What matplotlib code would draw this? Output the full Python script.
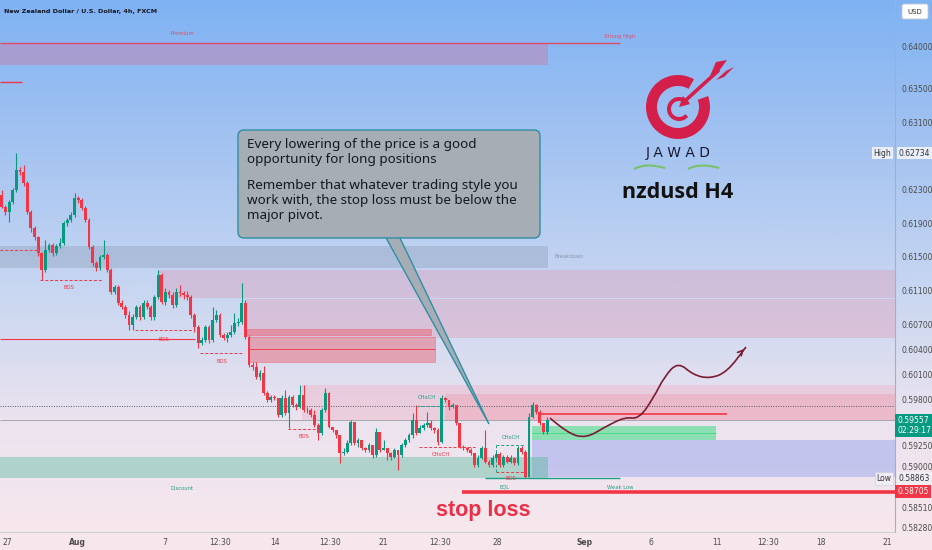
import numpy as np
import matplotlib
matplotlib.use('Agg')
import matplotlib.pyplot as plt
import matplotlib.transforms as mtransforms
from matplotlib.colors import LinearSegmentedColormap
from matplotlib.patches import Rectangle, FancyBboxPatch, Polygon, Wedge, PathPatch
from matplotlib.path import Path

# NZDUSD 4h candles
first_open = 0.62236
closes = np.array([
    0.62093, 0.62033, 0.62152, 0.62295, 0.62533, 0.62509, 0.62378, 0.62033, 0.61843, 0.61736,
    0.61545, 0.61343, 0.61581, 0.61641, 0.61545, 0.61629, 0.61664, 0.61902, 0.61938, 0.61998,
    0.62200, 0.62176, 0.62081, 0.61938, 0.61617, 0.61426, 0.61367, 0.61498, 0.61521, 0.61343,
    0.61081, 0.61140, 0.60950, 0.60902, 0.60807, 0.60688, 0.60783, 0.60902, 0.60783, 0.60950,
    0.60902, 0.60783, 0.61021, 0.61283, 0.60962, 0.61081, 0.61045, 0.60926, 0.61081, 0.61069,
    0.61045, 0.61021, 0.60807, 0.60664, 0.60474, 0.60509, 0.60664, 0.60509, 0.60748, 0.60807,
    0.60569, 0.60533, 0.60569, 0.60605, 0.60712, 0.60724, 0.60950, 0.60545, 0.60212, 0.60188,
    0.60069, 0.60117, 0.59878, 0.59795, 0.59831, 0.59819, 0.59617, 0.59819, 0.59640, 0.59831,
    0.59736, 0.59712, 0.59855, 0.59676, 0.59676, 0.59617, 0.59498, 0.59402, 0.59676, 0.59878,
    0.59474, 0.59438, 0.59378, 0.59164, 0.59176, 0.59283, 0.59533, 0.59283, 0.59319, 0.59224,
    0.59200, 0.59260, 0.59140, 0.59414, 0.59200, 0.59224, 0.59164, 0.59117, 0.59200, 0.59140,
    0.59260, 0.59319, 0.59378, 0.59557, 0.59402, 0.59462, 0.59498, 0.59521, 0.59462, 0.59438,
    0.59295, 0.59819, 0.59795, 0.59712, 0.59736, 0.59521, 0.59236, 0.59224, 0.59200, 0.59164,
    0.59021, 0.59105, 0.59224, 0.59057, 0.59021, 0.59105, 0.59152, 0.59021, 0.59117, 0.59057,
    0.59105, 0.59045, 0.59224, 0.59176, 0.58879, 0.59593, 0.59736, 0.59652, 0.59521, 0.59414,
    0.59557])
highs = np.array([
    0.62295, 0.62117, 0.62176, 0.62319, 0.62734, 0.62569, 0.62593, 0.62402, 0.62057, 0.61867,
    0.61748, 0.61557, 0.61700, 0.61664, 0.61664, 0.61652, 0.61724, 0.61926, 0.61962, 0.62033,
    0.62259, 0.62224, 0.62200, 0.62105, 0.61962, 0.61641, 0.61450, 0.61521, 0.61700, 0.61545,
    0.61367, 0.61164, 0.61164, 0.60986, 0.60926, 0.60854, 0.60819, 0.60926, 0.60926, 0.60986,
    0.60986, 0.60926, 0.61045, 0.61343, 0.61307, 0.61128, 0.61105, 0.61081, 0.61128, 0.61164,
    0.61093, 0.61093, 0.61045, 0.60831, 0.60688, 0.60545, 0.60688, 0.60688, 0.60902, 0.60866,
    0.60831, 0.60593, 0.60605, 0.60688, 0.60831, 0.60771, 0.61188, 0.60986, 0.60569, 0.60247,
    0.60247, 0.60152, 0.60200, 0.59902, 0.59855, 0.59855, 0.59819, 0.59855, 0.59914, 0.59855,
    0.59855, 0.59759, 0.59974, 0.59974, 0.59712, 0.59700, 0.59676, 0.59521, 0.59700, 0.59938,
    0.59890, 0.59474, 0.59438, 0.59378, 0.59224, 0.59319, 0.59557, 0.59533, 0.59343, 0.59319,
    0.59236, 0.59283, 0.59260, 0.59462, 0.59414, 0.59319, 0.59224, 0.59176, 0.59224, 0.59200,
    0.59283, 0.59343, 0.59402, 0.59640, 0.59736, 0.59498, 0.59521, 0.59652, 0.59557, 0.59474,
    0.59462, 0.59855, 0.59831, 0.59795, 0.59759, 0.59736, 0.59521, 0.59260, 0.59236, 0.59224,
    0.59164, 0.59140, 0.59247, 0.59438, 0.59081, 0.59140, 0.59176, 0.59176, 0.59140, 0.59140,
    0.59140, 0.59117, 0.59247, 0.59247, 0.59200, 0.59640, 0.59771, 0.59748, 0.59676, 0.59521,
    0.59593])
lows = np.array([
    0.62081, 0.61998, 0.61914, 0.62128, 0.62271, 0.62474, 0.62343, 0.62010, 0.61795, 0.61700,
    0.61509, 0.61224, 0.61319, 0.61557, 0.61509, 0.61521, 0.61605, 0.61641, 0.61867, 0.61914,
    0.61974, 0.62140, 0.62057, 0.61914, 0.61593, 0.61390, 0.61331, 0.61343, 0.61474, 0.61319,
    0.61057, 0.61057, 0.60926, 0.60878, 0.60771, 0.60629, 0.60629, 0.60759, 0.60748, 0.60759,
    0.60878, 0.60748, 0.60748, 0.60997, 0.60938, 0.60926, 0.61009, 0.60890, 0.60902, 0.61033,
    0.60997, 0.60986, 0.60771, 0.60605, 0.60414, 0.60450, 0.60485, 0.60474, 0.60485, 0.60724,
    0.60545, 0.60509, 0.60485, 0.60545, 0.60581, 0.60676, 0.60700, 0.60521, 0.60188, 0.60152,
    0.60045, 0.60033, 0.59855, 0.59771, 0.59771, 0.59795, 0.59593, 0.59593, 0.59617, 0.59462,
    0.59712, 0.59676, 0.59700, 0.59652, 0.59640, 0.59593, 0.59474, 0.59319, 0.59378, 0.59652,
    0.59462, 0.59414, 0.59343, 0.59045, 0.59140, 0.59164, 0.59260, 0.59260, 0.59236, 0.59200,
    0.59176, 0.59176, 0.59105, 0.59117, 0.59176, 0.59200, 0.59081, 0.59081, 0.59105, 0.58962,
    0.59117, 0.59236, 0.59295, 0.59343, 0.59378, 0.59402, 0.59438, 0.59474, 0.59438, 0.59402,
    0.59260, 0.59283, 0.59771, 0.59676, 0.59700, 0.59498, 0.59224, 0.59200, 0.59176, 0.59140,
    0.58997, 0.58997, 0.59093, 0.59045, 0.58997, 0.58997, 0.59081, 0.58997, 0.58997, 0.59045,
    0.59045, 0.59021, 0.59021, 0.59152, 0.58863, 0.58879, 0.59581, 0.59628, 0.59498, 0.59390,
    0.59390])

tick_pos = [1.4, 20.7, 44.9, 60.0, 75.2, 90.3, 104.9, 120.5, 136.2, 160.4, 178.6, 196.8, 210.8, 225.4, 243.5]
tick_lab = ['27', 'Aug', '7', '12:30', '14', '12:30', '21', '12:30', '28', 'Sep', '6', '11', '12:30', '18', '21']
price_ticks = [0.64, 0.635, 0.631, 0.623, 0.619, 0.615, 0.611, 0.607, 0.604, 0.601,
               0.598, 0.5925, 0.59, 0.5851, 0.5828]

last_price = 0.59557
high_price = 0.62734
low_price = 0.58863
stop_price = 0.58705
pivot_line = 0.59628
prev_close_line = 0.59724

XMAX = 245.7
# zones: (first bar, last bar, low, high)
premium_zone = (-0.5, 150.3, 0.63783, 0.64045)
grey_zone = (-0.5, 150.3, 0.61367, 0.61629)
supply_zones = [(43.3, XMAX, 0.61010, 0.61343), (66.9, XMAX, 0.60533, 0.60998)]
ob_zones = [(67.5, 118.1, 0.60569, 0.60640), (68.0, 119.2, 0.60248, 0.60545)]
fvg_zone = (82.6, XMAX, 0.59557, 0.59974)
fvg_inner = (121.9, XMAX, 0.59557, 0.59867)
demand_zone = (145.9, 196.5, 0.59319, 0.59486)
blue_zone = (145.9, XMAX, 0.58878, 0.59319)
discount_zone = (-0.5, 150.3, 0.58867, 0.59117)

# projected path drawn by the author
proj_x = [150.8, 155.5, 160.7, 165.9, 171.4, 175.3, 179.4, 182.2, 186.0, 190.2, 194.8, 199.5, 204.7]
proj_p = [0.59581, 0.59402, 0.59340, 0.59474, 0.59593, 0.59569, 0.59831, 0.60069, 0.60250, 0.60093, 0.60050, 0.60129, 0.60426]

GREEN = '#089981'
RED = '#f23645'
TEAL = '#1f9e89'

fig = plt.figure(figsize=(9.32, 5.5), dpi=100)

bg = fig.add_axes([0, 0, 1, 1], zorder=0)
cmap = LinearSegmentedColormap.from_list(
    'tv', [(0, '#7fb2f3'), (0.27, '#a5c4f1'), (0.55, '#cbd8f1'), (0.76, '#ebe3ef'), (1, '#f8e8ec')])
bg.imshow(np.linspace(0, 1, 256).reshape(-1, 1), aspect='auto', cmap=cmap,
          extent=[0, 1, 0, 1], origin='upper')
bg.axis('off')

ax = fig.add_axes([0, 18 / 550, 895 / 932, 532 / 550], zorder=1)
ax.patch.set_alpha(0)
ax.set_xlim(-0.5, XMAX)
ax.set_ylim(0.58224, 0.64557)


def zone(z, fc, alpha, ec='none', lw=0):
    ax.add_patch(Rectangle((z[0], z[2]), z[1] - z[0], z[3] - z[2], fc=fc, alpha=alpha,
                           ec=ec, lw=lw, zorder=2))


zone(premium_zone, '#d8739a', 0.38)
ax.hlines(0.64045, -0.5, 170.1, color='#e04a6a', lw=1, zorder=3)
ax.hlines(0.63581, -0.5, 5.6, color=RED, lw=1, zorder=3)
zone(grey_zone, '#7f8ea6', 0.3)
for z in supply_zones:
    zone(z, '#e88aa5', 0.3)
for z in ob_zones:
    zone(z, RED, 0.35, ec=RED, lw=0.6)
ax.hlines(0.60402, 68.0, 119.2, color=RED, lw=0.6, zorder=3)
zone(fvg_zone, '#f0a0b4', 0.3)
zone(fvg_inner, '#f26b80', 0.2)
zone(demand_zone, '#3ddc84', 0.55)
ax.hlines(0.59402, 145.9, 196.5, color='#3ddc84', lw=0.6, zorder=3)
zone(blue_zone, '#7d90ee', 0.38)
zone(discount_zone, '#4fb896', 0.4)

ax.hlines(prev_close_line, -0.5, XMAX, color='#555b66', lw=0.7, ls=(0, (1, 1.5)), zorder=3)
ax.hlines(last_price, -0.5, XMAX, color='#8a8f99', lw=0.5, zorder=3)

# structure lines
dashed = [(-0.5, 9.7, 0.61581, RED), (10.5, 27.6, 0.61224, RED), (36.6, 52.6, 0.60629, RED),
          (54.5, 66.6, 0.60355, RED), (78.7, 86.7, 0.59450, RED), (114.8, 130.2, 0.59236, RED),
          (114.3, 121.3, 0.59724, TEAL), (136, 144, 0.59260, TEAL), (136, 144, 0.58938, RED)]
for x0, x1, p, c in dashed:
    ax.hlines(p, x0, x1, color=c, lw=0.7, ls=(0, (3, 2)), zorder=3)
ax.vlines(136, 0.58938, 0.59260, color=TEAL, lw=0.7, ls=(0, (3, 2)), zorder=3)
ax.hlines(0.60521, -0.5, 53.2, color=RED, lw=0.8, zorder=3)
ax.hlines(0.58867, 133, 170, color=TEAL, lw=1, zorder=3)

labels = [('Premium', 49.6, 0.64164, '#e0506e'), ('Strong High', 170, 0.64128, '#e0506e'),
          ('Breakdown', 156, 0.61498, '#8a96a8'),
          ('BOS', 18.5, 0.61129, RED), ('BOS', 44.6, 0.60521, RED), ('BOS', 60.6, 0.60259, RED),
          ('BOS', 83.1, 0.59355, RED), ('CHoCH', 117, 0.59831, TEAL), ('CHoCH', 120.8, 0.59152, RED),
          ('CHoCH', 140.1, 0.59343, TEAL), ('BOS', 140.1, 0.58855, RED), ('EQL', 138.2, 0.58759, TEAL),
          ('Weak Low', 170, 0.58759, TEAL), ('Discount', 49.6, 0.58736, TEAL)]
for t, xx, pp, c in labels:
    ax.text(xx, pp, t, fontsize=3.8, color=c, ha='center', va='center', zorder=4)

# candles
x = np.arange(len(closes))
opens = np.r_[first_open, closes[:-1]]
col = np.where(closes >= opens, GREEN, RED)
ax.vlines(x, lows, highs, colors=col, lw=0.8, zorder=5)
ax.bar(x, np.maximum(np.abs(closes - opens), 0.00005), bottom=np.minimum(opens, closes),
       width=0.78, color=col, lw=0, zorder=6)

ax.hlines(pivot_line, 148, 199.5, color=RED, lw=1.2, zorder=6)
ax.hlines(stop_price, 126.6, XMAX, color=RED, lw=2.6, zorder=6)
ax.text(132.4, 0.58474, 'stop loss', fontsize=15.5, fontweight='bold', color='#ea2f47',
        ha='center', va='center', family=['Liberation Sans Narrow', 'Liberation Sans'], zorder=7)

# projection curve
pts = np.column_stack([proj_x, proj_p])
verts = [pts[0]]
codes = [Path.MOVETO]
for i in range(1, len(pts) - 1):
    verts += [pts[i], (pts[i] + pts[i + 1]) / 2]
    codes += [Path.CURVE3, Path.CURVE3]
verts.append(pts[-1])
codes.append(Path.LINETO)
ax.add_patch(PathPatch(Path(verts, codes), fc='none', ec='#7b1c32', lw=1.2, zorder=7))
ax.annotate('', xy=(proj_x[-1], proj_p[-1]), xytext=(proj_x[-1] - 1.5, proj_p[-1] - 0.0007),
            arrowprops=dict(arrowstyle='->', color='#7b1c32', lw=1.2, mutation_scale=9), zorder=7)

# axes / ticks
for s in ('top', 'left'):
    ax.spines[s].set_visible(False)
ax.spines['right'].set_color('#a3afc2')
ax.spines['right'].set_linewidth(0.8)
ax.spines['bottom'].set_color('#c9c9d2')
ax.spines['bottom'].set_linewidth(0.6)
ax.yaxis.tick_right()
ax.set_yticks(price_ticks, ['%.5f' % p for p in price_ticks])
ax.set_xticks(tick_pos, tick_lab)
ax.tick_params(axis='both', length=0, labelsize=5.5, labelcolor='#4a4a4a')
ax.tick_params(axis='y', pad=5)
ax.tick_params(axis='x', pad=4)
for lab in ax.get_xticklabels():
    if lab.get_text() in ('Aug', 'Sep'):
        lab.set_fontweight('bold')

tr = mtransforms.blended_transform_factory(ax.transAxes, ax.transData)
ax.text(1.004, high_price, '%.5f' % high_price, transform=tr, fontsize=5.5, color='#333',
        va='center', bbox=dict(fc='#e9eef8', ec='none', pad=1.2), zorder=8, clip_on=False)
ax.text(0.996, high_price, 'High', transform=tr, fontsize=5.5, color='#333', ha='right',
        va='center', bbox=dict(fc='#e9eef8', ec='none', pad=1.2), zorder=8, clip_on=False)
ax.text(1.004, low_price, '%.5f' % low_price, transform=tr, fontsize=5.5, color='#333',
        va='center', bbox=dict(fc='#f1edf4', ec='none', pad=1.2), zorder=8, clip_on=False)
ax.text(0.996, low_price, 'Low', transform=tr, fontsize=5.5, color='#333', ha='right',
        va='center', bbox=dict(fc='#f1edf4', ec='#c8cbd6', lw=0.4, pad=1.2), zorder=8, clip_on=False)
ax.text(1.003, last_price - 0.00062, '%.5f\n02:29:17' % last_price, transform=tr, fontsize=5.5,
        color='white', va='center', linespacing=1.1,
        bbox=dict(fc=GREEN, ec='none', pad=1.6), zorder=8, clip_on=False)
ax.text(1.003, stop_price, '%.5f' % stop_price, transform=tr, fontsize=5.5, color='white',
        va='center', bbox=dict(fc=RED, ec='none', pad=1.6), zorder=8, clip_on=False)

# overlay in pixel space for the annotations
ov = fig.add_axes([0, 0, 1, 1], zorder=3)
ov.set_xlim(0, 932)
ov.set_ylim(550, 0)
ov.axis('off')
ov.patch.set_alpha(0)

ov.text(4, 11, 'New Zealand Dollar / U.S. Dollar, 4h, FXCM', fontsize=4.6, fontweight='bold',
        color='#131722', va='center')
ov.add_patch(FancyBboxPatch((902, 4), 26, 15, boxstyle='round,pad=0,rounding_size=2',
                            fc='white', ec='#c3c8d2', lw=0.6))
ov.text(915, 11.5, 'USD', fontsize=5, color='#333', ha='center', va='center')

# callout
ov.add_patch(Polygon([(385, 236), (399, 236), (489, 424)], closed=True,
                     fc='#a7adb5', ec='#2e8fa3', lw=1))
ov.add_patch(FancyBboxPatch((238, 130), 302, 108, boxstyle='round,pad=0,rounding_size=6',
                            fc='#a7adb5', ec='#2e8fa3', lw=1))
ov.add_patch(Rectangle((386, 234), 12, 3, fc='#a7adb5', ec='none'))
ov.text(247, 138, 'Every lowering of the price is a good\nopportunity for long positions',
        fontsize=9.7, family='Noto Sans', color='#131722', va='top', linespacing=1.22)
ov.text(247, 179, 'Remember that whatever trading style you\nwork with, the stop loss must be below the\nmajor pivot.',
        fontsize=9.7, family='Noto Sans', color='#131722', va='top', linespacing=1.22)

# logo
CRIM = '#d41f4b'
ov.add_patch(Wedge((678, 107), 32, -20, 300, width=11, fc=CRIM, ec='none'))
ov.add_patch(Wedge((679, 109), 12, 40, 330, width=4, fc=CRIM, ec='none'))
ov.plot([686, 719], [100, 70], color=CRIM, lw=2.6, solid_capstyle='butt')
ov.add_patch(Polygon([(679, 107), (690, 104), (683, 96)], fc=CRIM, ec='none'))
ov.add_patch(Polygon([(710, 76), (716, 62), (727, 60), (719, 71)], fc=CRIM, ec='none'))
ov.add_patch(Polygon([(716, 80), (726, 71), (734, 67), (724, 77)], fc=CRIM, ec='none'))
ov.text(678, 153, 'J A W A D', fontsize=10, color='#1a1a2e', ha='center', va='center')
for sx in (634, 688):
    sw = Path([(sx, 169), (sx + 10, 164), (sx + 20, 165), (sx + 31, 168)],
              [Path.MOVETO, Path.CURVE4, Path.CURVE4, Path.CURVE4])
    ov.add_patch(PathPatch(sw, fc='none', ec='#79c16b', lw=1.5))
ov.text(678, 192, 'nzdusd H4', fontsize=15.5, fontweight='bold', family=['Open Sans', 'DejaVu Sans'],
        color='#111111', ha='center', va='center')

fig.savefig('out.png', dpi=100)
